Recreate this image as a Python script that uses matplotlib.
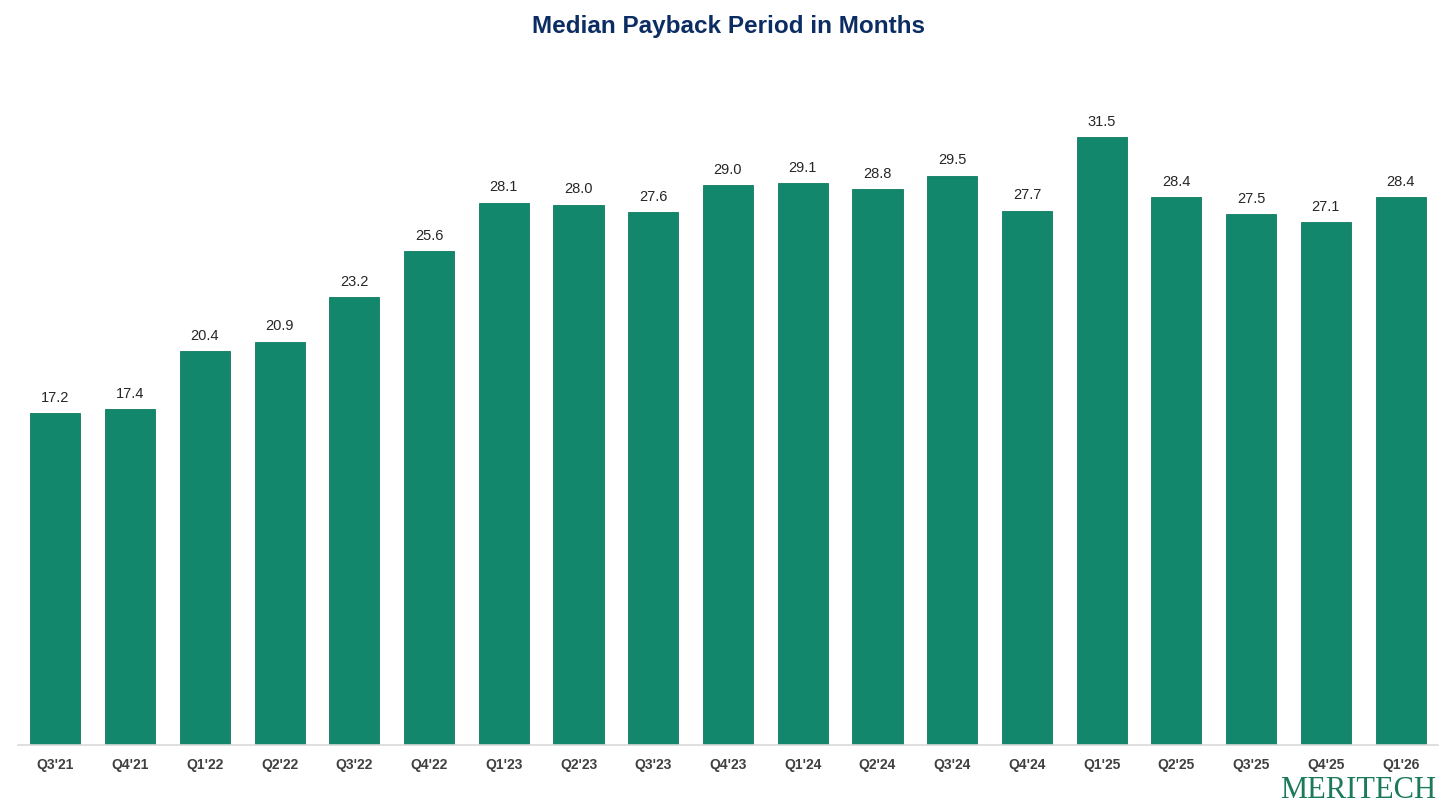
import matplotlib
matplotlib.use('Agg')
import matplotlib.pyplot as plt

quarters = ["Q3'21", "Q4'21", "Q1'22", "Q2'22", "Q3'22", "Q4'22", "Q1'23", "Q2'23",
            "Q3'23", "Q4'23", "Q1'24", "Q2'24", "Q3'24", "Q4'24", "Q1'25", "Q2'25",
            "Q3'25", "Q4'25", "Q1'26"]
payback = [17.2, 17.4, 20.4, 20.9, 23.2, 25.6, 28.1, 28.0, 27.6, 29.0, 29.1, 28.8,
           29.5, 27.7, 31.5, 28.4, 27.5, 27.1, 28.4]

W, H = 1456, 807
plt.rcParams['font.family'] = ['Liberation Sans', 'DejaVu Sans']

fig = plt.figure(figsize=(W / 100, H / 100), dpi=100)
# axes placed in pixel terms: baseline at y=745, spans x 18..1438
ax = fig.add_axes([18 / W, (H - 745) / H, (1438 - 18) / W, (745 - 60) / H])

x = range(len(quarters))
bars = ax.bar(x, payback, width=0.67, color='#13876C', edgecolor='#0f7a60', linewidth=0.6)
for xi, v in zip(x, payback):
    ax.annotate(f"{v:.1f}", (xi, v), xytext=(0, 6), textcoords='offset points',
                ha='center', va='bottom', fontsize=10.5, color='#262626')

ax.set_xlim(-0.5, len(quarters) - 0.5)
ax.set_ylim(0, 35.5)
ax.set_xticks(list(x))
ax.set_xticklabels(quarters, fontsize=10, fontweight='bold', color='#404040')
ax.tick_params(axis='x', length=0, pad=9)
ax.set_yticks([])
for s in ['top', 'right', 'left']:
    ax.spines[s].set_visible(False)
ax.spines['bottom'].set_color('#d9d9d9')
ax.spines['bottom'].set_linewidth(1.2)

fig.text(0.5, 1 - 27 / H, "Median Payback Period in Months", ha='center', va='center',
         fontsize=17.5, fontweight='bold', color='#0B2D63')
fig.text(1436 / W, 1 - 805 / H, "MERITECH", ha='right', va='bottom',
         fontsize=22, color='#1B7A5A', family=['Liberation Serif', 'DejaVu Serif'])

fig.savefig('out.png', dpi=100)
